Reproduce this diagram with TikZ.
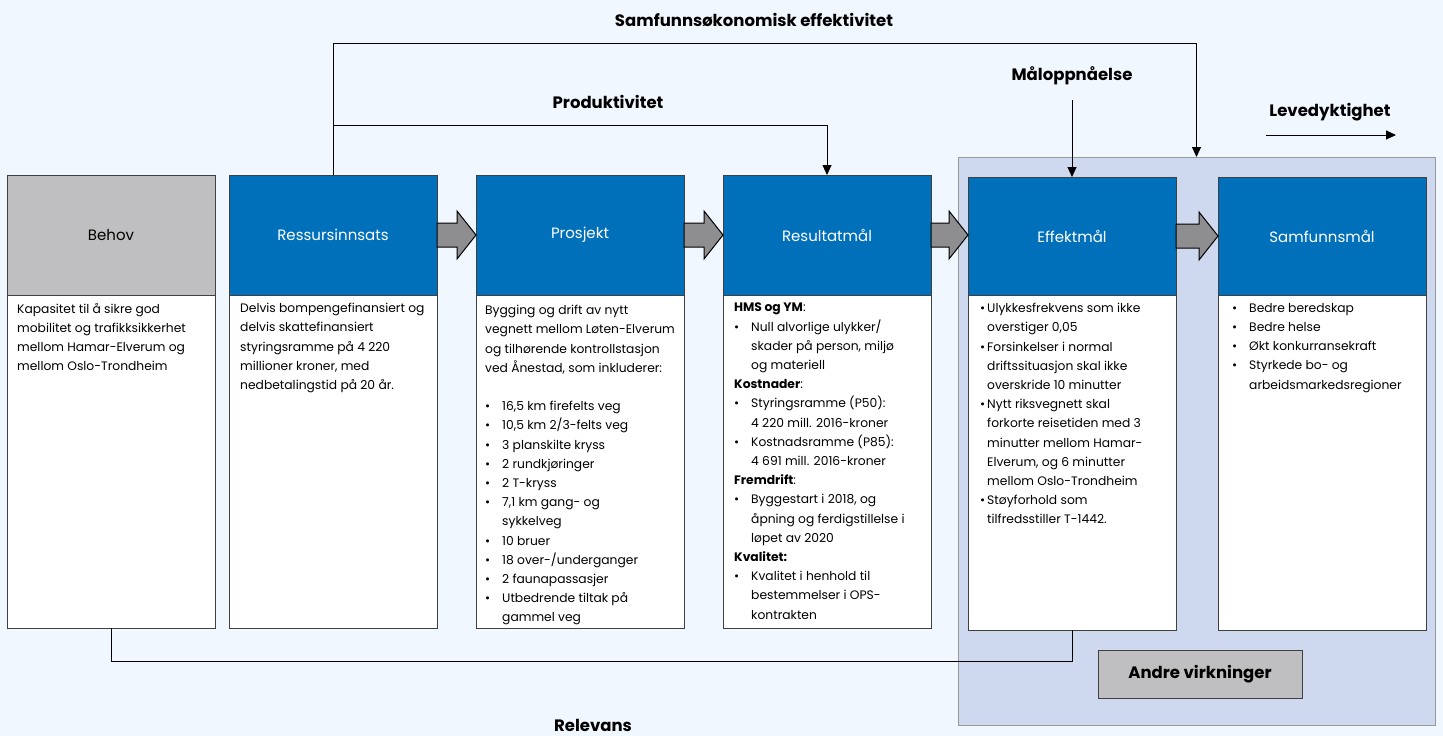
\documentclass[tikz,border=0pt]{standalone}
\usepackage{fontspec}
\setmainfont{Poppins}
\usetikzlibrary{arrows.meta,calc}
\definecolor{bgc}{HTML}{F1F7FE}
\definecolor{hblue}{HTML}{0070BA}
\definecolor{hgray}{HTML}{BFBFC1}
\definecolor{regionc}{HTML}{CED8EE}
\definecolor{agray}{HTML}{8E8E90}
\newcommand\bu{\makebox[17pt][l]{\textbullet}}
\newcommand\ii{\makebox[17pt]{}}
\newcommand\bs{\makebox[7pt][l]{\textbullet}}
\newcommand\is{\makebox[7pt]{}}
\begin{document}
\begin{tikzpicture}[x=1pt,y=-1pt,
  hdr/.style={draw=black!75, line width=0.8pt, fill=hblue, text=white, anchor=north west,
    minimum width=208pt, minimum height=120pt, inner sep=0pt, outer sep=0pt,
    font=\fontsize{15}{17}\selectfont},
  hdrgray/.style={hdr, fill=hgray, text=black},
  tbox/.style={draw=black!75, line width=0.8pt, fill=white, anchor=north west,
    minimum width=208pt, minimum height=333pt, inner sep=0pt, outer sep=0pt},
  body/.style={anchor=north west, align=left, inner sep=0pt,
    font=\fontsize{12.3}{19.2}\selectfont},
  lbl/.style={font=\fontsize{16.5}{18}\selectfont\bfseries, inner sep=0pt},
  conn/.style={draw=black, line width=0.9pt},
  arr/.style={conn, -{Triangle[length=10pt,width=9pt]}},
  barrow/.style={draw=black, line width=1pt, fill=agray}
]
\useasboundingbox (0,0) rectangle (1443,736);
\fill[bgc] (0,0) rectangle (1443,736);

% highlighted region
\node[draw=black!40, line width=1pt, fill=regionc, anchor=north west, minimum width=477pt,
  minimum height=568pt, inner sep=0pt, outer sep=0pt] (region) at (958,157) {};

% headers
\node[hdrgray] (behovH) at (7,175) {Behov};
\node[hdr] (ressH) at (229,175) {Ressursinnsats};
\node[hdr] (prosH) at (476,175) {Prosjekt};
\node[hdr] (resH) at (723,175) {Resultatmål};
\node[hdr, minimum height=118pt] (effH) at (968,177) {Effektmål};
\node[hdr, minimum height=118pt] (samH) at (1218,177) {Samfunnsmål};

% text boxes
\node[tbox] (behovT) at (7,295) {};
\node[tbox] (ressT) at (229,295) {};
\node[tbox] (prosT) at (476,295) {};
\node[tbox] (resT) at (723,295) {};
\node[tbox, minimum height=335pt] (effT) at (968,295) {};
\node[tbox, minimum height=335pt] (samT) at (1218,295) {};

% texts
\node[body] (behovX) at (17,303) {Kapasitet til å sikre god\\
mobilitet og trafikksikkerhet\\
mellom Hamar-Elverum og\\
mellom Oslo-Trondheim};

\node[body] (ressX) at (240,303) {Delvis bompengefinansiert og\\
delvis skattefinansiert\\
styringsramme på 4 220\\
millioner kroner, med\\
nedbetalingstid på 20 år.};

\node[body] (prosX) at (485,305) {Bygging og drift av nytt\\
vegnett mellom Løten-Elverum\\
og tilhørende kontrollstasjon\\
ved Ånestad, som inkluderer:\\[19.2pt]
\bu 16,5 km firefelts veg\\
\bu 10,5 km 2/3-felts veg\\
\bu 3 planskilte kryss\\
\bu 2 rundkjøringer\\
\bu 2 T-kryss\\
\bu 7,1 km gang- og\\
\ii sykkelveg\\
\bu 10 bruer\\
\bu 18 over-/underganger\\
\bu 2 faunapassasjer\\
\bu Utbedrende tiltak på\\
\ii gammel veg};

\node[body] (resX) at (734,303) {\textbf{HMS og YM}:\\
\bu Null alvorlige ulykker/\\
\ii skader på person, miljø\\
\ii og materiell\\
\textbf{Kostnader}:\\
\bu Styringsramme (P50):\\
\ii 4 220 mill. 2016-kroner\\
\bu Kostnadsramme (P85):\\
\ii 4 691 mill. 2016-kroner\\
\textbf{Fremdrift}:\\
\bu Byggestart i 2018, og\\
\ii åpning og ferdigstillelse i\\
\ii løpet av 2020\\
\textbf{Kvalitet:}\\
\bu Kvalitet i henhold til\\
\ii bestemmelser i OPS-\\
\ii kontrakten};

\node[body] (effX) at (980,303) {\bs Ulykkesfrekvens som ikke\\
\is overstiger 0,05\\
\bs Forsinkelser i normal\\
\is driftssituasjon skal ikke\\
\is overskride 10 minutter\\
\bs Nytt riksvegnett skal\\
\is forkorte reisetiden med 3\\
\is minutter mellom Hamar-\\
\is Elverum, og 6 minutter\\
\is mellom Oslo-Trondheim\\
\bs Støyforhold som\\
\is tilfredsstiller T-1442.};

\node[body] (samX) at (1232,303) {\bu Bedre beredskap\\
\bu Bedre helse\\
\bu Økt konkurransekraft\\
\bu Styrkede bo- og\\
\ii arbeidsmarkedsregioner};

% block arrows
\foreach \a/\b in {ressH/prosH, prosH/resH, resH/effH, effH/samH}{
  \path[barrow] ($(\a.east)+(0,-12)$) -- ($(\b.west |- \a.east)+(-19,-12)$)
    -- ($(\b.west |- \a.east)+(-19,-24)$) -- (\b.west |- \a.east)
    -- ($(\b.west |- \a.east)+(-19,24)$) -- ($(\b.west |- \a.east)+(-19,12)$)
    -- ($(\a.east)+(0,12)$) -- cycle;
}

% Andre virkninger
\node[draw=black!75, line width=1pt, fill=hgray, minimum width=204pt, minimum height=48pt,
  inner sep=0pt, font=\fontsize{16.5}{18}\selectfont\bfseries] (andre) at (1200,674) {Andre virkninger};

% connectors
\coordinate (topY) at (0,43);
\coordinate (prodY) at (0,125);
\coordinate (maalY) at (0,100);
\coordinate (relY) at (0,661);
\coordinate (levA) at (1266,135);
\coordinate (levB) at (1396,135);

\draw[arr] (ressH.north) -- (ressH.north |- topY) -| (region.north);
\draw[arr] (ressH.north |- prodY) -| (resH.north);
\draw[arr] (effH.north |- maalY) -- (effH.north);
\draw[arr] (levA) -- (levB);
\draw[conn] (behovT.south) -- (behovT.south |- relY) -| (effT.south);

% labels
\node[lbl] (lSamf) at (754,20) {Samfunnsøkonomisk effektivitet};
\node[lbl] (lProd) at (608,102) {Produktivitet};
\node[lbl] (lMaal) at (1072,76) {Måloppnåelse};
\node[lbl] (lLeve) at (1330,112) {Levedyktighet};
\node[lbl] (lRel) at (593,725) {Relevans};
\end{tikzpicture}
\end{document}
